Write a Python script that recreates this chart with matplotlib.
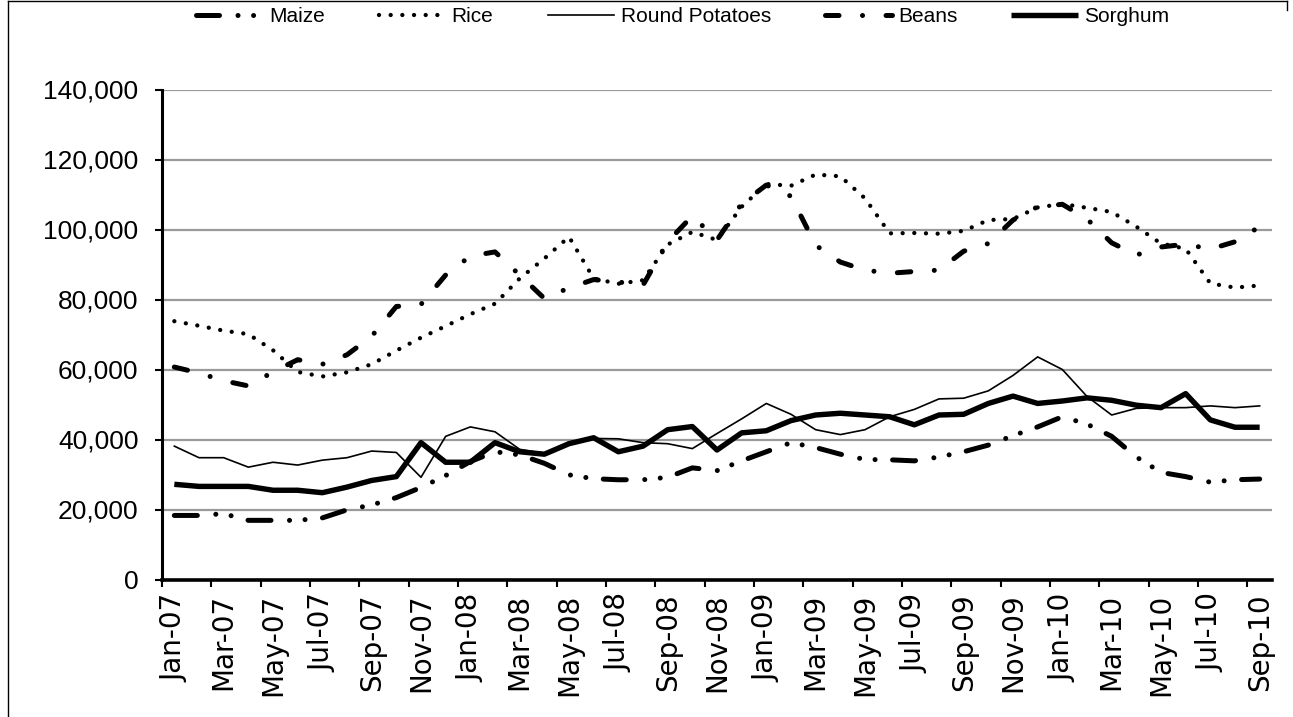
import numpy as np
import matplotlib
matplotlib.use('Agg')
import matplotlib.pyplot as plt
from matplotlib import font_manager
from matplotlib.lines import Line2D

# monthly categories Jan-07 .. Sep-10
mon_names = ['Jan', 'Feb', 'Mar', 'Apr', 'May', 'Jun', 'Jul', 'Aug', 'Sep', 'Oct', 'Nov', 'Dec']
months = [m + '-' + y for y in ['07', '08', '09', '10'] for m in mon_names][:45]

maize = [18300, 18300, 18800, 16900, 16900, 16900, 17600, 19900, 21300, 23400,
         26300, 29700, 33700, 36500, 35600, 33200, 29900, 28800, 28500, 28500,
         29200, 31900, 31100, 33900, 36500, 39100, 37700, 35800, 34300, 34200,
         33900, 35000, 36500, 38400, 41100, 43600, 46500, 44400, 40900, 35000,
         30600, 29400, 27800, 28500, 28700]
rice = [73800, 72500, 71100, 70100, 65500, 59300, 58000, 59200, 61500, 65400,
        69100, 72400, 75800, 78800, 86000, 91700, 97900, 86000, 84500, 85500,
        95700, 99300, 97000, 106500, 113000, 112500, 115700, 115200, 108900, 98900,
        99000, 98800, 99600, 102700, 103000, 106300, 107300, 106200, 105000, 100800,
        96000, 94500, 84600, 83400, 84000]
potatoes = [38100, 34800, 34800, 32100, 33500, 32700, 34100, 34800, 36700, 36300,
            29200, 40900, 43600, 42200, 37200, 36000, 39300, 40300, 40200, 39100,
            38800, 37400, 41700, 45900, 50300, 47200, 42800, 41400, 42800, 46500,
            48600, 51600, 51800, 53900, 58300, 63600, 60000, 52300, 47000, 48900,
            49100, 49100, 49600, 49100, 49600]
beans = [60700, 59000, 56800, 55300, 59300, 62800, 61500, 64200, 69500, 78000,
         78600, 87000, 92400, 93600, 87000, 80300, 83300, 85700, 85000, 84100,
         96500, 103900, 97000, 107400, 112700, 109500, 95500, 90700, 88400, 87500,
         88000, 88400, 93800, 96000, 102700, 106500, 107200, 103000, 96200, 92700,
         95000, 95800, 94400, 96500, 100800]
sorghum = [27200, 26600, 26600, 26600, 25500, 25500, 24800, 26400, 28300, 29400,
           39100, 33500, 33500, 39100, 36500, 35800, 38800, 40500, 36500, 38100,
           42800, 43700, 37000, 41900, 42500, 45400, 47000, 47500, 47000, 46500,
           44200, 47000, 47200, 50300, 52400, 50300, 51000, 51900, 51200, 49800,
           49100, 53100, 45600, 43500, 43500]


def pick_font(names):
    have = set(f.name for f in font_manager.fontManager.ttflist)
    for n in names:
        if n in have:
            return n
    return 'DejaVu Sans'


narrow = pick_font(['Liberation Sans Narrow', 'DejaVu Sans Condensed', 'Liberation Sans'])

x = np.arange(len(months))

fig = plt.figure(figsize=(12.93, 7.17), dpi=100)
ax = fig.add_axes([162 / 1293, 1 - 579.5 / 717, 1110 / 1293, 490 / 717])

ax.plot(x, maize, color='black', lw=3.6, linestyle=(0, (4.6, 3.7, 0.01, 3.1, 0.01, 3.5)),
        dash_capstyle='round', label='Maize')
ax.plot(x, rice, color='black', lw=3.1, linestyle=(0, (0.01, 2.7)),
        dash_capstyle='round', label='Rice')
ax.plot(x, potatoes, color='black', lw=1.2, label='Round Potatoes')
ax.plot(x, beans, color='black', lw=3.6, linestyle=(0, (2.7, 4.7, 0.01, 4.7)),
        dash_capstyle='round', label='Beans')
ax.plot(x, sorghum, color='black', lw=3.9, solid_capstyle='butt', label='Sorghum')

ax.set_ylim(0, 140000)
ax.set_xlim(-0.5, len(months) - 0.5)
ax.set_yticks(np.arange(0, 140001, 20000))
ax.set_yticklabels(['{:,}'.format(v) for v in range(0, 140001, 20000)],
                   fontfamily=narrow, fontsize=19)
ax.yaxis.grid(True, color='#9a9a9a', lw=1.6)
ax.set_axisbelow(True)

# ticks between categories, labels on every second category
ax.set_xticks(np.arange(-0.5, len(months), 2))
ax.set_xticklabels([])
ax.set_xticks(x[::2], minor=True)
ax.set_xticklabels(months[::2], minor=True, rotation=90, fontsize=20,
                   fontfamily='DejaVu Sans')
ax.tick_params(axis='x', which='major', direction='out', length=5, width=1.5)
ax.tick_params(axis='x', which='minor', length=0, pad=10)
ax.tick_params(axis='y', direction='out', length=5, width=1.5, pad=12)

for s in ['top', 'right']:
    ax.spines[s].set_visible(False)
ax.spines['left'].set_linewidth(2.2)
ax.spines['bottom'].set_linewidth(2.6)

fig.legend(loc='center', bbox_to_anchor=(0.528, 0.977), ncol=5, frameon=False,
           prop={'family': narrow, 'size': 15}, handlelength=3.2,
           handletextpad=0.3, columnspacing=2.6)

# outer chart border
fig.add_artist(Line2D([8 / 1293, 8 / 1293], [0, 1 - 1 / 717], color='black', lw=1))
fig.add_artist(Line2D([8 / 1293, 1287 / 1293], [1 - 1 / 717, 1 - 1 / 717], color='black', lw=1))
fig.add_artist(Line2D([1287 / 1293, 1287 / 1293], [1 - 1 / 717, 1 - 10 / 717], color='black', lw=1))

fig.savefig('out.png', dpi=100)
